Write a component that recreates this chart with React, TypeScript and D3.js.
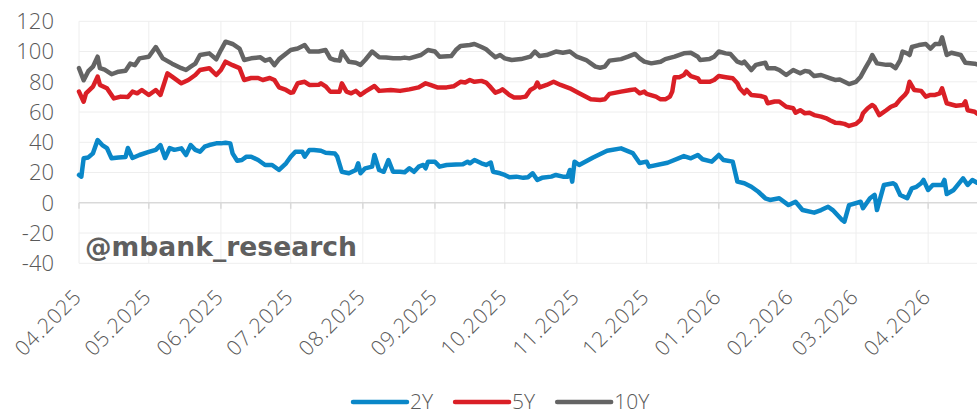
import React, { useEffect, useRef } from 'react';
import * as d3 from 'd3';

type Point = [string, number];

// x axis: one tick per month
const monthTicks = [
    '2025-04-01', '2025-05-01', '2025-06-01', '2025-07-01', '2025-08-01', '2025-09-01', '2025-10-01',
    '2025-11-01', '2025-12-01', '2026-01-01', '2026-02-01', '2026-03-01', '2026-04-01',
];
const dateRange = ['2025-04-01', '2026-04-22'];
const yTicks = [-40, -20, 0, 20, 40, 60, 80, 100, 120];

const seriesNames = ['2Y', '5Y', '10Y'];
const seriesColors = ['#0a87c8', '#da1f26', '#646464'];
const watermark = '@mbank_research';

const s2Y: Point[] = [
    ['2025-04-01', 18.4], ['2025-04-02', 17.3], ['2025-04-03', 29.4], ['2025-04-05', 30], ['2025-04-07', 32.7],
    ['2025-04-09', 41.5], ['2025-04-11', 38.2], ['2025-04-13', 36.2], ['2025-04-15', 29.4], ['2025-04-18', 30],
    ['2025-04-21', 30.3], ['2025-04-22', 36.2], ['2025-04-24', 29.6], ['2025-04-27', 31.6], ['2025-05-01', 33.6],
    ['2025-05-04', 35], ['2025-05-06', 38.2], ['2025-05-08', 29.6], ['2025-05-10', 36.2], ['2025-05-12', 35],
    ['2025-05-15', 36], ['2025-05-17', 31.6], ['2025-05-19', 38.2], ['2025-05-21', 35], ['2025-05-23', 33.8],
    ['2025-05-25', 37.1], ['2025-05-27', 38.2], ['2025-05-30', 39.3], ['2025-06-01', 39.3], ['2025-06-03', 39.7],
    ['2025-06-05', 39.3], ['2025-06-06', 32.7], ['2025-06-08', 27.8], ['2025-06-10', 28.3], ['2025-06-12', 30.5],
    ['2025-06-14', 30.5], ['2025-06-17', 28.3], ['2025-06-20', 25], ['2025-06-23', 25], ['2025-06-26', 21.7],
    ['2025-06-29', 26.1], ['2025-07-01', 30.5], ['2025-07-03', 33.8], ['2025-07-06', 33.8], ['2025-07-07', 30.5],
    ['2025-07-09', 34.9], ['2025-07-11', 34.9], ['2025-07-14', 34.4], ['2025-07-16', 33.1], ['2025-07-20', 32.6],
    ['2025-07-21', 30.5], ['2025-07-23', 20.5], ['2025-07-26', 19.5], ['2025-07-29', 21.7], ['2025-07-30', 26.1],
    ['2025-07-31', 19.5], ['2025-08-02', 22.8], ['2025-08-05', 23.9], ['2025-08-06', 31.6], ['2025-08-08', 21.7],
    ['2025-08-10', 20.5], ['2025-08-12', 28.3], ['2025-08-14', 20.5], ['2025-08-17', 20.5], ['2025-08-19', 20.2],
    ['2025-08-21', 22.8], ['2025-08-23', 20.5], ['2025-08-25', 23.9], ['2025-08-27', 25], ['2025-08-28', 22.8],
    ['2025-08-29', 27.2], ['2025-09-01', 27.2], ['2025-09-03', 23.9], ['2025-09-06', 25], ['2025-09-10', 25.4],
    ['2025-09-13', 25.5], ['2025-09-15', 27.2], ['2025-09-16', 26.1], ['2025-09-18', 28.3], ['2025-09-21', 26.1],
    ['2025-09-23', 25], ['2025-09-25', 26.6], ['2025-09-26', 20.5], ['2025-09-29', 19.5], ['2025-10-01', 18.4],
    ['2025-10-03', 16.9], ['2025-10-06', 17.3], ['2025-10-09', 16.5], ['2025-10-11', 16.9], ['2025-10-13', 19.5],
    ['2025-10-15', 15.1], ['2025-10-17', 16.5], ['2025-10-21', 17.3], ['2025-10-23', 18.4], ['2025-10-26', 17.3],
    ['2025-10-28', 17.3], ['2025-10-29', 21.7], ['2025-10-30', 14], ['2025-10-31', 27.2], ['2025-11-02', 25],
    ['2025-11-08', 30], ['2025-11-14', 34.4], ['2025-11-20', 36], ['2025-11-25', 32.9], ['2025-11-28', 26.3],
    ['2025-12-01', 27.2], ['2025-12-02', 23.9], ['2025-12-10', 26.5], ['2025-12-17', 30.9], ['2025-12-20', 29.4],
    ['2025-12-23', 31.6], ['2025-12-25', 28.8], ['2025-12-29', 27.2], ['2026-01-01', 31.6], ['2026-01-03', 28.3],
    ['2026-01-07', 27.2], ['2026-01-09', 14], ['2026-01-12', 12.9], ['2026-01-15', 10.6], ['2026-01-18', 7.3],
    ['2026-01-21', 3], ['2026-01-23', 1.9], ['2026-01-27', 3], ['2026-01-31', -1.5], ['2026-02-03', 0.7],
    ['2026-02-06', -4.8], ['2026-02-11', -6.5], ['2026-02-14', -4.8], ['2026-02-17', -2.6], ['2026-02-19', -4.8],
    ['2026-02-23', -11.4], ['2026-02-24', -12.5], ['2026-02-26', -1.5], ['2026-03-03', 0.7], ['2026-03-04', -3.6],
    ['2026-03-07', 3], ['2026-03-09', 5.2], ['2026-03-10', -4.8], ['2026-03-13', 11.8], ['2026-03-17', 12.9],
    ['2026-03-18', 11.8], ['2026-03-20', 5.2], ['2026-03-23', 3], ['2026-03-25', 9.6], ['2026-03-27', 10.6],
    ['2026-03-29', 12.9], ['2026-03-30', 15.1], ['2026-04-01', 8.5], ['2026-04-03', 11.8], ['2026-04-07', 11.8],
    ['2026-04-08', 15.1], ['2026-04-09', 5.8], ['2026-04-12', 8.5], ['2026-04-16', 16.2], ['2026-04-18', 11.8],
    ['2026-04-20', 15.1], ['2026-04-22', 13.3],
];

const s5Y: Point[] = [
    ['2025-04-01', 73.5], ['2025-04-03', 66.8], ['2025-04-04', 72.4], ['2025-04-07', 76.8], ['2025-04-09', 83.4],
    ['2025-04-10', 77.9], ['2025-04-13', 75.7], ['2025-04-16', 69], ['2025-04-19', 70.2], ['2025-04-22', 70],
    ['2025-04-24', 73.5], ['2025-04-26', 72.4], ['2025-04-28', 74.6], ['2025-05-01', 71.3], ['2025-05-04', 74.6],
    ['2025-05-06', 71.3], ['2025-05-09', 85.6], ['2025-05-11', 83.4], ['2025-05-15', 79], ['2025-05-18', 81.2],
    ['2025-05-21', 84.5], ['2025-05-23', 87.8], ['2025-05-27', 89], ['2025-05-30', 84.5], ['2025-06-01', 87.8],
    ['2025-06-03', 93.3], ['2025-06-06', 91], ['2025-06-09', 89], ['2025-06-11', 81.2], ['2025-06-14', 82.5],
    ['2025-06-17', 82.5], ['2025-06-19', 81.2], ['2025-06-22', 82.5], ['2025-06-24', 81.2], ['2025-06-26', 76.3],
    ['2025-06-29', 74.6], ['2025-07-01', 72.8], ['2025-07-02', 73], ['2025-07-04', 79], ['2025-07-07', 80],
    ['2025-07-09', 77.9], ['2025-07-13', 78], ['2025-07-14', 79], ['2025-07-16', 77], ['2025-07-18', 73.5],
    ['2025-07-22', 73.5], ['2025-07-23', 79], ['2025-07-25', 73.5], ['2025-07-27', 72.4], ['2025-07-29', 74],
    ['2025-07-31', 71.3], ['2025-08-02', 73.5], ['2025-08-06', 77.2], ['2025-08-08', 74], ['2025-08-13', 74.6],
    ['2025-08-17', 74], ['2025-08-21', 75], ['2025-08-25', 76.3], ['2025-08-28', 79], ['2025-08-30', 78],
    ['2025-09-02', 76.3], ['2025-09-06', 76.3], ['2025-09-09', 77], ['2025-09-12', 80], ['2025-09-14', 79.5],
    ['2025-09-16', 81.2], ['2025-09-18', 80], ['2025-09-21', 80.6], ['2025-09-23', 79.5], ['2025-09-25', 76.3],
    ['2025-09-27', 72.8], ['2025-09-29', 74], ['2025-09-30', 75], ['2025-10-03', 71.3], ['2025-10-05', 69.7],
    ['2025-10-08', 69.7], ['2025-10-10', 70.2], ['2025-10-12', 74.6], ['2025-10-14', 76.3], ['2025-10-15', 79.5],
    ['2025-10-16', 76.3], ['2025-10-19', 77.9], ['2025-10-22', 80], ['2025-10-25', 77.9], ['2025-10-29', 75.7],
    ['2025-11-02', 72.4], ['2025-11-07', 68.4], ['2025-11-11', 68], ['2025-11-13', 68.4], ['2025-11-15', 72],
    ['2025-11-20', 73.5], ['2025-11-24', 74.6], ['2025-11-26', 75], ['2025-11-28', 72.4], ['2025-11-30', 73.5],
    ['2025-12-01', 72], ['2025-12-05', 70.2], ['2025-12-07', 68.4], ['2025-12-09', 68.4], ['2025-12-11', 70.2],
    ['2025-12-12', 73.5], ['2025-12-13', 83], ['2025-12-15', 83], ['2025-12-17', 84.5], ['2025-12-18', 86.7],
    ['2025-12-20', 83.8], ['2025-12-23', 82.3], ['2025-12-24', 80], ['2025-12-28', 80], ['2025-12-30', 81.2],
    ['2026-01-01', 83.8], ['2026-01-04', 83], ['2026-01-07', 82.3], ['2026-01-09', 79], ['2026-01-10', 75.7],
    ['2026-01-12', 72.4], ['2026-01-13', 74.6], ['2026-01-15', 71.3], ['2026-01-19', 70.6], ['2026-01-21', 69.7],
    ['2026-01-22', 65.8], ['2026-01-25', 67], ['2026-01-27', 67], ['2026-01-30', 63.5], ['2026-02-02', 62.5],
    ['2026-02-03', 59.6], ['2026-02-05', 61.2], ['2026-02-07', 59.2], ['2026-02-09', 59.6], ['2026-02-11', 58],
    ['2026-02-14', 57], ['2026-02-16', 56], ['2026-02-18', 54.4], ['2026-02-20', 53], ['2026-02-22', 52.7],
    ['2026-02-24', 52.2], ['2026-02-26', 50.8], ['2026-03-01', 52.2], ['2026-03-03', 54.9], ['2026-03-04', 59.2],
    ['2026-03-06', 62.5], ['2026-03-08', 64.7], ['2026-03-09', 63.5], ['2026-03-11', 58], ['2026-03-14', 61.2],
    ['2026-03-16', 63.5], ['2026-03-18', 64.7], ['2026-03-20', 68.4], ['2026-03-22', 71.3], ['2026-03-23', 73.5],
    ['2026-03-24', 80], ['2026-03-26', 74.6], ['2026-03-29', 74], ['2026-03-31', 70.2], ['2026-04-02', 71.3],
    ['2026-04-04', 71.3], ['2026-04-06', 72.4], ['2026-04-07', 75.7], ['2026-04-09', 65.8], ['2026-04-13', 64.2],
    ['2026-04-16', 64.7], ['2026-04-17', 67], ['2026-04-18', 61.2], ['2026-04-21', 60.2], ['2026-04-22', 59],
];

const s10Y: Point[] = [
    ['2025-04-01', 89], ['2025-04-03', 81], ['2025-04-05', 87], ['2025-04-07', 90], ['2025-04-09', 96.6],
    ['2025-04-10', 89], ['2025-04-12', 88], ['2025-04-15', 85], ['2025-04-18', 86.7], ['2025-04-21', 87.3],
    ['2025-04-23', 92], ['2025-04-25', 91], ['2025-04-27', 95.5], ['2025-05-01', 96.6], ['2025-05-04', 103],
    ['2025-05-07', 95.5], ['2025-05-11', 92], ['2025-05-15', 89], ['2025-05-17', 87.8], ['2025-05-19', 90],
    ['2025-05-21', 92], ['2025-05-23', 97.7], ['2025-05-27', 98.8], ['2025-05-30', 94.9], ['2025-06-01', 101],
    ['2025-06-03', 106.5], ['2025-06-06', 105], ['2025-06-09', 102], ['2025-06-11', 94.4], ['2025-06-14', 95.5],
    ['2025-06-18', 96.2], ['2025-06-20', 94], ['2025-06-22', 95], ['2025-06-24', 91], ['2025-06-26', 95],
    ['2025-07-01', 101], ['2025-07-04', 102], ['2025-07-07', 104.3], ['2025-07-09', 100], ['2025-07-13', 100],
    ['2025-07-16', 101], ['2025-07-18', 95.5], ['2025-07-20', 94.4], ['2025-07-22', 94], ['2025-07-23', 100],
    ['2025-07-26', 93.3], ['2025-07-29', 92.6], ['2025-07-31', 91.2], ['2025-08-02', 94.4], ['2025-08-05', 100],
    ['2025-08-08', 96.2], ['2025-08-11', 96], ['2025-08-14', 95.5], ['2025-08-17', 95.5], ['2025-08-19', 96],
    ['2025-08-21', 95.5], ['2025-08-26', 97.7], ['2025-08-29', 101], ['2025-09-01', 100], ['2025-09-03', 96.6],
    ['2025-09-08', 97], ['2025-09-10', 101], ['2025-09-12', 103.7], ['2025-09-16', 104.3], ['2025-09-18', 105],
    ['2025-09-21', 103], ['2025-09-23', 101.5], ['2025-09-25', 98.8], ['2025-09-27', 96.2], ['2025-09-29', 97.7],
    ['2025-10-01', 95.5], ['2025-10-04', 94.4], ['2025-10-08', 95], ['2025-10-12', 96.6], ['2025-10-14', 100],
    ['2025-10-16', 97], ['2025-10-19', 97.7], ['2025-10-23', 100], ['2025-10-26', 99.2], ['2025-10-29', 100],
    ['2025-11-01', 96.6], ['2025-11-05', 94.4], ['2025-11-07', 92.2], ['2025-11-09', 90], ['2025-11-11', 89.3],
    ['2025-11-13', 90], ['2025-11-15', 94], ['2025-11-20', 95], ['2025-11-23', 96.6], ['2025-11-26', 98.4],
    ['2025-11-28', 95.5], ['2025-11-30', 93.3], ['2025-12-03', 92.2], ['2025-12-07', 93.3], ['2025-12-09', 95],
    ['2025-12-13', 96.6], ['2025-12-17', 98.8], ['2025-12-20', 99.2], ['2025-12-23', 96.6], ['2025-12-24', 94.4],
    ['2025-12-28', 95], ['2025-12-30', 96.6], ['2026-01-01', 100], ['2026-01-04', 98.8], ['2026-01-06', 98.4],
    ['2026-01-09', 93.3], ['2026-01-11', 92.2], ['2026-01-12', 93.3], ['2026-01-15', 87.8], ['2026-01-17', 91.2],
    ['2026-01-19', 91.9], ['2026-01-21', 92.6], ['2026-01-22', 89], ['2026-01-25', 89], ['2026-01-27', 87.8],
    ['2026-01-30', 84.5], ['2026-02-02', 87.8], ['2026-02-05', 85.6], ['2026-02-07', 87.2], ['2026-02-09', 86.6],
    ['2026-02-11', 83.8], ['2026-02-14', 84.5], ['2026-02-18', 82.3], ['2026-02-20', 81.2], ['2026-02-22', 81.5],
    ['2026-02-24', 80], ['2026-02-26', 78.5], ['2026-03-01', 80], ['2026-03-03', 83.4], ['2026-03-05', 89],
    ['2026-03-07', 94.4], ['2026-03-08', 97.7], ['2026-03-10', 92.2], ['2026-03-14', 91.2], ['2026-03-16', 91.2],
    ['2026-03-18', 89], ['2026-03-20', 94.4], ['2026-03-21', 100], ['2026-03-23', 98.8], ['2026-03-24', 97.7],
    ['2026-03-25', 103], ['2026-03-28', 104.3], ['2026-03-31', 105], ['2026-04-02', 102], ['2026-04-04', 105],
    ['2026-04-06', 105], ['2026-04-07', 109.4], ['2026-04-09', 97.7], ['2026-04-11', 99.2], ['2026-04-15', 97.7],
    ['2026-04-17', 92.6], ['2026-04-21', 92], ['2026-04-22', 91.5],
];

const allSeries = [s2Y, s5Y, s10Y];

export default function App() {
    const svgRef = useRef<SVGSVGElement>(null);

    useEffect(() => {
        if (!svgRef.current) return;
        document.body.style.margin = '0';

        const left = 79;
        const right = 977;
        const top = 21.3;
        const bottom = 263.3;
        const axisFont = "'Open Sans', sans-serif";
        const textColor = '#595959';

        const svg = d3.select(svgRef.current);
        svg.selectAll('*').remove(); // Clear previous

        const parse = d3.utcParse('%Y-%m-%d');
        const fmt = d3.utcFormat('%m.%Y');

        const x = d3.scaleUtc()
            .domain(dateRange.map(d => parse(d) as Date))
            .range([left, right]);
        const y = d3.scaleLinear().domain([-40, 120]).range([bottom, top]);

        const ticks = monthTicks.map(d => parse(d) as Date);

        // grid
        const grid = svg.append('g');
        grid.selectAll('line.h')
            .data(yTicks.filter(v => v !== 0))
            .join('line')
            .attr('x1', left).attr('x2', right)
            .attr('y1', d => y(d)).attr('y2', d => y(d))
            .attr('stroke', '#eeeeee').attr('stroke-width', 1);
        grid.selectAll('line.v')
            .data(ticks)
            .join('line')
            .attr('x1', d => x(d)).attr('x2', d => x(d))
            .attr('y1', top).attr('y2', bottom)
            .attr('stroke', '#eeeeee').attr('stroke-width', 1);

        // zero line with month ticks
        grid.append('line')
            .attr('x1', left).attr('x2', right)
            .attr('y1', y(0)).attr('y2', y(0))
            .attr('stroke', '#d9d9d9').attr('stroke-width', 1.5);
        grid.selectAll('line.t')
            .data(ticks)
            .join('line')
            .attr('x1', d => x(d)).attr('x2', d => x(d))
            .attr('y1', y(0)).attr('y2', y(0) + 6)
            .attr('stroke', '#d9d9d9').attr('stroke-width', 1.5);

        // y labels
        svg.append('g')
            .selectAll('text')
            .data(yTicks)
            .join('text')
            .attr('x', 54)
            .attr('y', d => y(d))
            .attr('dy', '0.36em')
            .attr('text-anchor', 'end')
            .attr('font-family', axisFont)
            .attr('font-weight', 300)
            .attr('font-size', 22)
            .attr('fill', textColor)
            .text(d => d);

        // x labels, rotated
        svg.append('g')
            .selectAll('text')
            .data(ticks)
            .join('text')
            .attr('transform', d => `translate(${x(d) + 4},298) rotate(-45)`)
            .attr('text-anchor', 'end')
            .attr('font-family', axisFont)
            .attr('font-weight', 300)
            .attr('font-size', 21)
            .attr('letter-spacing', 1)
            .attr('fill', textColor)
            .text(d => fmt(d));

        // watermark
        svg.append('text')
            .attr('x', 85)
            .attr('y', 256)
            .attr('font-family', "'DejaVu Sans', sans-serif")
            .attr('font-weight', 'bold')
            .attr('font-size', 26.6)
            .attr('fill', '#5f5f5f')
            .text(watermark);

        // lines
        const line = d3.line<Point>()
            .x(d => x(parse(d[0]) as Date))
            .y(d => y(d[1]))
            .curve(d3.curveLinear);

        allSeries.forEach((s, i) => {
            svg.append('path')
                .datum(s)
                .attr('fill', 'none')
                .attr('stroke', seriesColors[i])
                .attr('stroke-width', 4.5)
                .attr('stroke-linejoin', 'round')
                .attr('stroke-linecap', 'round')
                .attr('d', line);
        });

        // legend
        const legend = svg.append('g');
        let cx = 353;
        seriesNames.forEach((name, i) => {
            legend.append('line')
                .attr('x1', cx).attr('x2', cx + 54)
                .attr('y1', 402).attr('y2', 402)
                .attr('stroke', seriesColors[i])
                .attr('stroke-width', 4.5)
                .attr('stroke-linecap', 'round');
            const t = legend.append('text')
                .attr('x', cx + 57)
                .attr('y', 409)
                .attr('font-family', axisFont)
                .attr('font-weight', 300)
                .attr('font-size', 21)
                .attr('fill', textColor)
                .text(name);
            const w = (t.node() as SVGTextElement).getComputedTextLength();
            cx += 57 + w + 22;
        });
    }, []);

    return <svg width={977} height={416} ref={svgRef} style={{ display: 'block' }} />;
}
